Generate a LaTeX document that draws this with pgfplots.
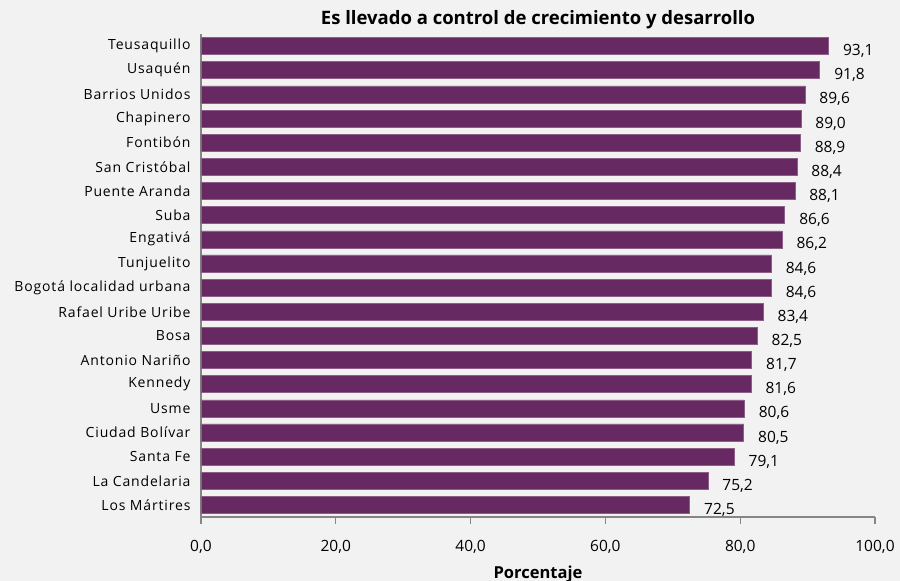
\documentclass[border=0pt]{standalone}
\usepackage{fontspec}
\setmainfont{Open Sans}
\newfontfamily\catfont[LetterSpace=6]{Open Sans}
\usepackage{pgfplots}
\pgfplotsset{compat=1.18}
\definecolor{barc}{RGB}{102,41,97}
\definecolor{bgc}{RGB}{242,242,242}
\definecolor{axc}{RGB}{134,134,134}
\begin{document}
\begin{tikzpicture}
\path[use as bounding box, fill=bgc] (-201pt,-64pt) rectangle (699pt,517pt);
\begin{axis}[
  at={(0,0)}, anchor=south west,
  scale only axis, width=674pt, height=483pt,
  xbar, bar width=17pt,
  xmin=0, xmax=100, ymin=-0.5, ymax=19.5,
  ytick={0,...,19},
  yticklabels={Los Mártires, La Candelaria, Santa Fe, Ciudad Bolívar, Usme, Kennedy, Antonio Nariño, Bosa, Rafael Uribe Uribe, Bogotá localidad urbana, Tunjuelito, Engativá, Suba, Puente Aranda, San Cristóbal, Fontibón, Chapinero, Barrios Unidos, Usaquén, Teusaquillo},
  xtick={0,20,...,100},
  axis x line*=bottom, axis y line*=left,
  axis line style={axc, line width=1.3pt},
  xtick style={axc, line width=1.3pt},
  major tick length=7pt, tick align=outside,
  ytick style={draw=none},
  y tick label style={font=\catfont\fontsize{14}{16}\selectfont, xshift=0pt},
  x tick label style={font=\fontsize{15.5}{18}\selectfont, yshift=-13pt},
  /pgf/number format/assume math mode=true,
  xticklabel={\pgfmathprintnumber[fixed, fixed zerofill, precision=1, use comma]{\tick}},
  xlabel={\textbf{Porcentaje}},
  xlabel style={font=\fontsize{16.5}{19}\selectfont, yshift=-5pt},
  title={\textbf{Es llevado a control de crecimiento y desarrollo}},
  title style={font=\fontsize{18.5}{21}\selectfont, yshift=-4pt},
  nodes near coords,
  nodes near coords style={anchor=west, xshift=11pt, yshift=-5pt, font=\fontsize{15.5}{18}\selectfont, black,
    /pgf/number format/.cd, fixed, fixed zerofill, precision=1, use comma, assume math mode=true},
]
\addplot[fill=barc, draw=barc!75!white, line width=0.5pt] coordinates {
(72.5,0) (75.2,1) (79.1,2) (80.5,3) (80.6,4) (81.6,5) (81.7,6) (82.5,7) (83.4,8) (84.6,9)
(84.6,10) (86.2,11) (86.6,12) (88.1,13) (88.4,14) (88.9,15) (89.0,16) (89.6,17) (91.8,18) (93.1,19)
};
\end{axis}
\end{tikzpicture}
\end{document}
